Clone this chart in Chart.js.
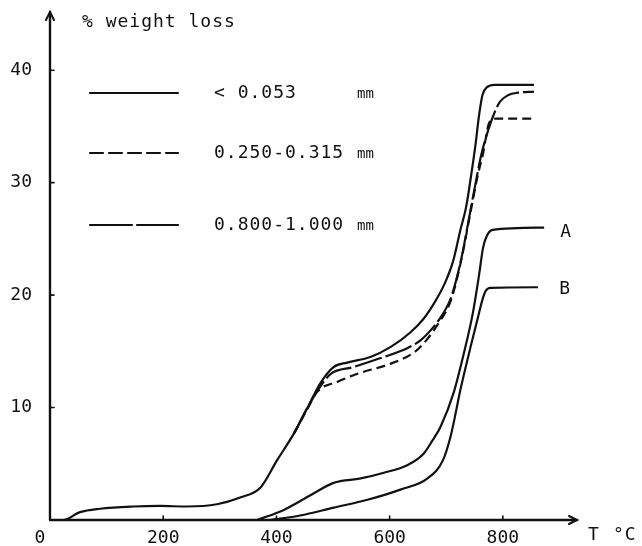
<!DOCTYPE html>
<html>
<head>
<meta charset="utf-8">
<script src="https://cdn.jsdelivr.net/npm/chart.js@4/dist/chart.umd.min.js"></script>
<style>
  html, body { margin: 0; padding: 0; background: #fff; }
  #chart { display: block; }
</style>
</head>
<body>
<canvas id="chart" width="642" height="546"></canvas>
<script>
// temperature (°C) and % weight loss
const fineT = [0, 23, 53, 88, 147, 195, 242, 295, 336, 372, 401, 431, 455, 478, 501, 525, 566, 602, 637, 660, 680, 697, 712, 725, 735, 745, 752, 758, 764, 772, 785, 855];
const fineLoss = [0, 0, 0.7, 1.0, 1.2, 1.25, 1.2, 1.4, 2.0, 2.9, 5.3, 7.7, 10.0, 12.2, 13.6, 14.0, 14.5, 15.4, 16.7, 17.9, 19.4, 21.0, 23.0, 25.8, 27.8, 31.0, 33.5, 36.0, 37.8, 38.5, 38.7, 38.7];

const midT = [431, 455, 478, 496, 536, 584, 632, 655, 678, 695, 708, 726, 743, 752, 762, 775, 785, 795, 810, 827, 855];
const midLoss = [7.7, 10.0, 11.9, 13.0, 13.6, 14.4, 15.3, 16.0, 17.2, 18.4, 19.7, 23.1, 27.6, 30.0, 32.5, 34.8, 36.2, 37.2, 37.8, 38.0, 38.1];

const coarseT = [431, 455, 472, 508, 549, 596, 643, 665, 685, 708, 726, 743, 755, 765, 775, 785, 855];
const coarseLoss = [7.7, 9.9, 11.4, 12.3, 13.1, 13.8, 14.9, 16.0, 17.4, 19.5, 23.0, 27.4, 30.5, 32.6, 35.2, 35.7, 35.7];

const curveAT = [366, 413, 460, 501, 549, 590, 632, 660, 676, 690, 713, 731, 747, 758, 765, 772, 782, 873];
const curveALoss = [0, 0.9, 2.2, 3.3, 3.7, 4.2, 4.9, 5.9, 7.1, 8.3, 11.3, 14.8, 18.4, 21.8, 24.2, 25.3, 25.8, 26.0];

const curveBT = [389, 442, 501, 561, 619, 667, 694, 708, 726, 743, 755, 764, 770, 778, 862];
const curveBLoss = [0, 0.4, 1.1, 1.8, 2.7, 3.7, 5.3, 7.5, 11.8, 15.4, 17.8, 19.6, 20.4, 20.65, 20.7];

const xTicks = [0, 200, 400, 600, 800];
const yTicks = [10, 20, 30, 40];
const legendLabels = ['< 0.053', '0.250-0.315', '0.800-1.000'];
const curveLabels = [{ text: 'A', t: 911, loss: 25.6 }, { text: 'B', t: 909, loss: 20.5 }];

const FONT = '"DejaVu Sans Mono", monospace';
const INK = '#111';

function toPoints(ts, ys) {
  return ts.map((t, i) => ({ x: t, y: ys[i] }));
}

function curve(label, ts, ys, dash) {
  return {
    label,
    data: toPoints(ts, ys),
    borderColor: INK,
    borderWidth: 2.2,
    borderDash: dash,
    pointRadius: 0,
    fill: false,
    cubicInterpolationMode: 'monotone'
  };
}

const figurePlugin = {
  id: 'figure',
  afterDraw(chart) {
    const c = chart.ctx;
    const xs = chart.scales.x;
    const ys = chart.scales.y;
    const x0 = xs.getPixelForValue(0);
    const y0 = ys.getPixelForValue(0);
    const xEnd = chart.chartArea.right;
    const yEnd = chart.chartArea.top - 2;

    c.save();
    c.strokeStyle = INK;
    c.fillStyle = INK;
    c.lineWidth = 2.4;
    c.lineCap = 'round';
    c.setLineDash([]);

    // axes
    c.beginPath();
    c.moveTo(x0, y0);
    c.lineTo(x0, yEnd);
    c.moveTo(x0, y0);
    c.lineTo(xEnd, y0);
    c.stroke();

    // arrow heads
    c.lineWidth = 2;
    c.beginPath();
    c.moveTo(x0 - 4, yEnd + 8);
    c.lineTo(x0, yEnd);
    c.lineTo(x0 + 4, yEnd + 8);
    c.moveTo(xEnd - 8, y0 - 4);
    c.lineTo(xEnd, y0);
    c.lineTo(xEnd - 8, y0 + 4);
    c.stroke();

    // tick marks
    c.lineWidth = 1.6;
    c.beginPath();
    yTicks.forEach(v => {
      const py = ys.getPixelForValue(v);
      c.moveTo(x0, py);
      c.lineTo(x0 + 4, py);
    });
    xTicks.slice(1).forEach(v => {
      const px = xs.getPixelForValue(v);
      c.moveTo(px, y0);
      c.lineTo(px, y0 - 4);
    });
    c.stroke();

    // tick labels
    c.font = '18px ' + FONT;
    c.textBaseline = 'middle';
    c.textAlign = 'right';
    yTicks.forEach(v => {
      c.fillText(String(v), x0 - 18, ys.getPixelForValue(v));
    });
    c.textAlign = 'center';
    xTicks.forEach(v => {
      const px = xs.getPixelForValue(v) - (v === 0 ? 10 : 0);
      c.fillText(String(v), px, y0 + 18);
    });

    // axis titles
    c.letterSpacing = '1px';
    c.textAlign = 'left';
    c.fillText('% weight loss', 82, 22);
    c.fillText('T', 588, 535);
    c.fillText('°C', 613, 535);

    // legend
    const legendY = [93, 153, 225];
    const legendDash = [[], [13, 6], [42, 5]];
    legendLabels.forEach((text, i) => {
      c.lineWidth = 2.2;
      c.setLineDash(legendDash[i]);
      c.beginPath();
      c.moveTo(90, legendY[i]);
      c.lineTo(178, legendY[i]);
      c.stroke();
      c.setLineDash([]);
      c.font = '18px ' + FONT;
      c.letterSpacing = '1px';
      c.fillText(text, 214, legendY[i]);
      c.font = '14px ' + FONT;
      c.letterSpacing = '0px';
      c.fillText('mm', 357, legendY[i] + 1);
    });

    // curve labels
    c.font = '18px ' + FONT;
    c.letterSpacing = '0px';
    c.textAlign = 'center';
    curveLabels.forEach(l => {
      c.fillText(l.text, xs.getPixelForValue(l.t), ys.getPixelForValue(l.loss));
    });
    c.restore();
  }
};

new Chart(document.getElementById('chart').getContext('2d'), {
  type: 'line',
  data: {
    datasets: [
      curve('< 0.053 mm', fineT, fineLoss, []),
      curve('0.800-1.000 mm', midT, midLoss, [28, 4]),
      curve('0.250-0.315 mm', coarseT, coarseLoss, [9, 5]),
      curve('A', curveAT, curveALoss, []),
      curve('B', curveBT, curveBLoss, [])
    ]
  },
  options: {
    responsive: false,
    animation: false,
    layout: { padding: { left: 50, right: 65, top: 14, bottom: 26 } },
    scales: {
      x: { type: 'linear', min: 0, max: 931, display: false },
      y: { type: 'linear', min: 0, max: 45, display: false }
    },
    plugins: {
      legend: { display: false },
      tooltip: { enabled: false }
    }
  },
  plugins: [figurePlugin]
});
</script>
</body>
</html>
